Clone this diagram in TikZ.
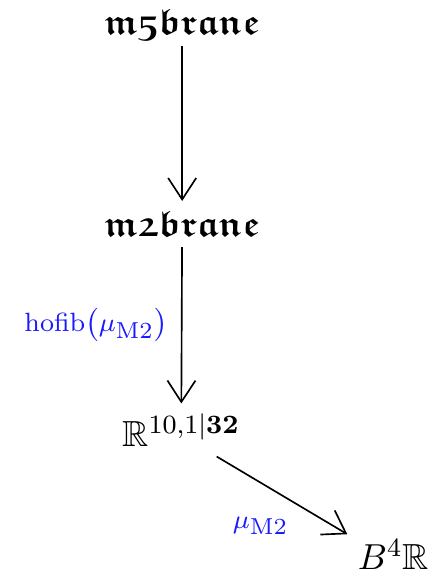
\documentclass[tikz,border=0pt]{standalone}
\usepackage{amsmath,amssymb}
\usepackage{tikz}
\usetikzlibrary{arrows.meta}
\definecolor{lab}{HTML}{1A1AFF}
\newcommand{\mtwo}{\mu_{\text{\fontsize{7}{8}\selectfont M2}}}
\tikzset{
  obj/.style={inner sep=3pt, anchor=base, font=\fontsize{11}{13}\selectfont},
  map/.style={-{Straight Barb[length=6.5pt,width=8.5pt]}, line width=0.5pt},
  lab/.style={text=lab, inner sep=4pt, font=\fontsize{8.4}{10}\selectfont}
}
\begin{document}
\begin{tikzpicture}[x=1cm,y=1cm]
  \useasboundingbox (0,0) rectangle (4.60,-6.145);
  % objects of the tower
  \node[obj] (m5) at (1.94,-0.37) {$\boldsymbol{\mathfrak{m5brane}}$};
  \node[obj] (m2) at (1.94,-2.52) {$\boldsymbol{\mathfrak{m2brane}}$};
  \node[obj] (sp) at (1.93,-4.76) {$\mathbb{R}^{10,1\vert\mathbf{32}}$};
  \node[obj] (b4) at (4.19,-6.07) {$B^4\mathbb{R}$};
  % maps
  \draw[map,shorten <=-2pt] (m5) -- (m2);
  \draw[map] (m2) -- (sp) node[midway,left,lab] {$\mathrm{hofib}\big(\mtwo\big)$};
  \draw[map,shorten <=12.5pt] ([yshift=-1.5pt]sp.center) -- ([yshift=-1.5pt]b4.north west)
    node[pos=0.68,anchor=north east,xshift=2.5pt,lab] {$\mtwo$};
\end{tikzpicture}
\end{document}
